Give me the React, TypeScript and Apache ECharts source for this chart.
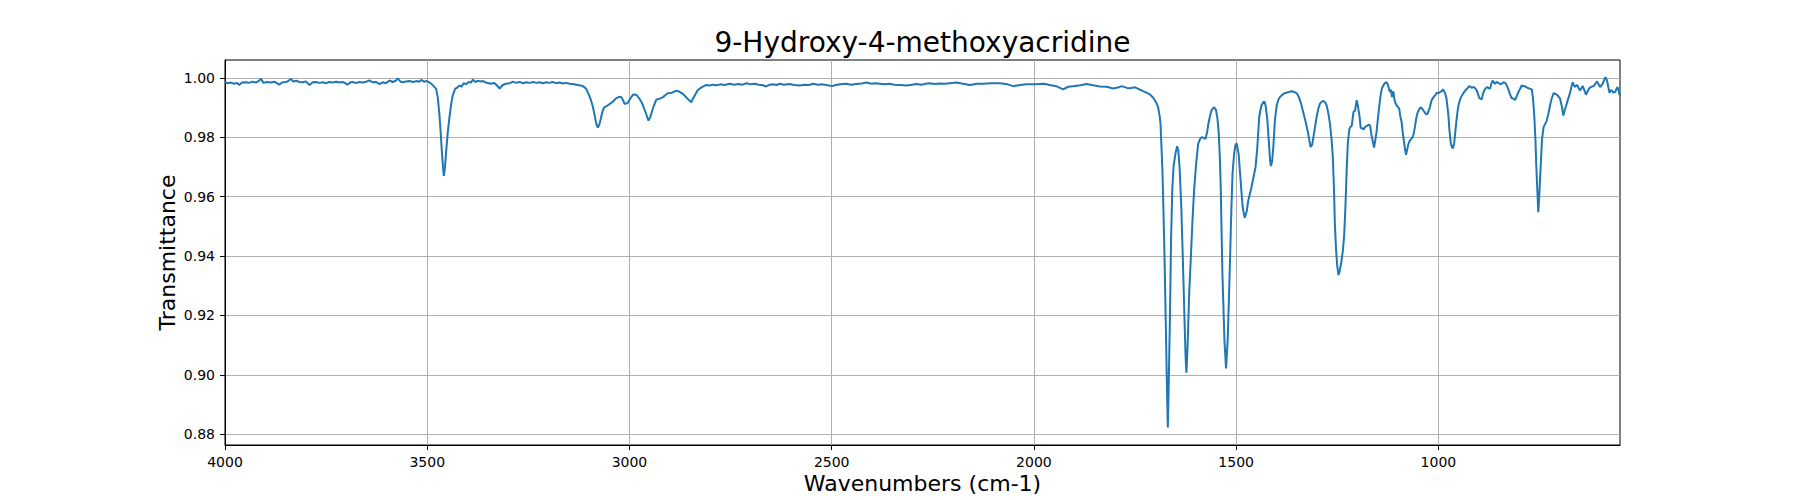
import { useEffect, useRef } from "react";
import * as echarts from "echarts";

const chartTitle = "9-Hydroxy-4-methoxyacridine";
const xAxisLabel = "Wavenumbers (cm-1)";
const yAxisLabel = "Transmittance";

const xTicks = [1000, 1500, 2000, 2500, 3000, 3500, 4000];
const yTicks = [0.88, 0.9, 0.92, 0.94, 0.96, 0.98, 1.0];

// [wavenumber, transmittance]
const spectrum: [number, number][] = [
  [4000, 0.9985], [3993, 0.9982], [3986, 0.9984], [3977, 0.998], [3970, 0.9983],
  [3965, 0.9976], [3958, 0.9984], [3948, 0.9985], [3940, 0.9983], [3932, 0.9987],
  [3924, 0.9984], [3917, 0.9989], [3911, 0.9997], [3905, 0.9983], [3897, 0.9986],
  [3886, 0.9984], [3878, 0.9987], [3866, 0.9977], [3858, 0.9985], [3849, 0.9986],
  [3843, 0.999], [3837, 0.9996], [3830, 0.9987], [3824, 0.999], [3816, 0.9986],
  [3808, 0.9985], [3800, 0.9988], [3791, 0.9976], [3783, 0.9985], [3775, 0.9986],
  [3767, 0.9983], [3758, 0.9985], [3750, 0.9982], [3742, 0.9986], [3734, 0.9984],
  [3725, 0.9987], [3717, 0.9984], [3709, 0.9986], [3703, 0.9982], [3697, 0.9977],
  [3690, 0.9985], [3684, 0.9986], [3676, 0.9982], [3668, 0.9986], [3659, 0.9984],
  [3651, 0.9987], [3643, 0.9991], [3635, 0.9985], [3626, 0.9986], [3618, 0.9979],
  [3610, 0.9985], [3602, 0.9982], [3593, 0.9991], [3585, 0.9986], [3578, 0.999],
  [3573, 0.9998], [3566, 0.9987], [3560, 0.9985], [3552, 0.9988], [3544, 0.9989],
  [3535, 0.9986], [3527, 0.9989], [3520, 0.9987], [3515, 0.9993], [3508, 0.9987],
  [3501, 0.9989], [3495, 0.9985], [3490, 0.998], [3484, 0.9972], [3478, 0.9963],
  [3474, 0.9935], [3470, 0.9879], [3467, 0.982], [3464, 0.9756], [3461, 0.97],
  [3459, 0.967], [3456, 0.97], [3453, 0.9756], [3449, 0.982], [3445, 0.9868],
  [3441, 0.991], [3437, 0.9941], [3431, 0.9963], [3425, 0.9968], [3420, 0.9974],
  [3415, 0.997], [3410, 0.9982], [3404, 0.9978], [3398, 0.9986], [3392, 0.9984],
  [3387, 0.9994], [3381, 0.9986], [3375, 0.999], [3369, 0.9988], [3362, 0.9989],
  [3355, 0.9984], [3348, 0.9982], [3342, 0.998], [3335, 0.9983], [3328, 0.9975],
  [3321, 0.9964], [3314, 0.9975], [3306, 0.998], [3296, 0.9982], [3288, 0.9987],
  [3280, 0.9983], [3272, 0.9986], [3263, 0.9982], [3255, 0.9985], [3247, 0.9983],
  [3238, 0.9986], [3230, 0.9983], [3222, 0.9985], [3214, 0.9982], [3206, 0.9985],
  [3198, 0.9983], [3190, 0.9986], [3181, 0.9982], [3173, 0.9984], [3165, 0.9981],
  [3157, 0.9983], [3148, 0.998], [3140, 0.9979], [3132, 0.9977], [3124, 0.9975],
  [3115, 0.9972], [3107, 0.9963], [3101, 0.9945], [3095, 0.9924], [3090, 0.99],
  [3086, 0.9873], [3082, 0.9845], [3078, 0.9832], [3074, 0.9845], [3070, 0.9868],
  [3066, 0.989], [3062, 0.9901], [3056, 0.9905], [3049, 0.9912], [3041, 0.992],
  [3033, 0.9931], [3026, 0.9936], [3020, 0.9935], [3016, 0.9925], [3012, 0.9912],
  [3008, 0.9914], [3004, 0.9916], [2998, 0.993], [2991, 0.9944], [2983, 0.9943],
  [2975, 0.9929], [2969, 0.9915], [2965, 0.9901], [2959, 0.9879], [2953, 0.9856],
  [2949, 0.9866], [2946, 0.9879], [2940, 0.9905], [2934, 0.9926], [2925, 0.993],
  [2917, 0.9935], [2911, 0.9942], [2905, 0.9948], [2895, 0.995], [2884, 0.9957],
  [2876, 0.9953], [2868, 0.9946], [2862, 0.9938], [2856, 0.9929], [2847, 0.9918],
  [2843, 0.993], [2839, 0.994], [2831, 0.9959], [2822, 0.9968], [2810, 0.9976],
  [2802, 0.9974], [2794, 0.9977], [2785, 0.9975], [2775, 0.9978], [2765, 0.9976],
  [2752, 0.998], [2742, 0.9977], [2730, 0.9979], [2720, 0.9977], [2711, 0.9982],
  [2700, 0.9978], [2690, 0.998], [2680, 0.9977], [2670, 0.9975], [2662, 0.9971],
  [2655, 0.9976], [2645, 0.9978], [2636, 0.9976], [2629, 0.998], [2618, 0.9977],
  [2605, 0.9979], [2592, 0.9976], [2579, 0.9974], [2568, 0.9977], [2556, 0.9976],
  [2546, 0.998], [2534, 0.9977], [2522, 0.9978], [2510, 0.9975], [2499, 0.9972],
  [2490, 0.9976], [2478, 0.9978], [2464, 0.998], [2452, 0.9977], [2440, 0.9979],
  [2426, 0.9981], [2414, 0.9984], [2402, 0.998], [2392, 0.9982], [2381, 0.998],
  [2370, 0.9978], [2358, 0.998], [2345, 0.9977], [2330, 0.9976], [2315, 0.9974],
  [2302, 0.9977], [2290, 0.9979], [2278, 0.9977], [2268, 0.998], [2258, 0.9982],
  [2245, 0.9979], [2232, 0.9981], [2220, 0.998], [2208, 0.9982], [2192, 0.9984],
  [2175, 0.998], [2159, 0.9976], [2140, 0.998], [2126, 0.998], [2105, 0.9982],
  [2084, 0.9982], [2065, 0.9978], [2051, 0.9972], [2035, 0.9976], [2018, 0.9978],
  [1995, 0.9978], [1975, 0.998], [1961, 0.9976], [1945, 0.9972], [1928, 0.9961],
  [1915, 0.997], [1903, 0.9972], [1885, 0.9975], [1870, 0.9979], [1850, 0.9974],
  [1837, 0.9971], [1820, 0.997], [1804, 0.9964], [1790, 0.9968], [1783, 0.9972],
  [1770, 0.9966], [1763, 0.9965], [1750, 0.9968], [1742, 0.9963], [1730, 0.9955],
  [1722, 0.995], [1713, 0.9944], [1705, 0.9933], [1698, 0.9918], [1693, 0.9901],
  [1689, 0.987], [1687, 0.9845], [1685, 0.978], [1682, 0.9677], [1678, 0.9453],
  [1674, 0.9173], [1671, 0.895], [1669, 0.8823], [1667, 0.895], [1664, 0.9173],
  [1661, 0.9453], [1658, 0.962], [1655, 0.97], [1650, 0.9745], [1646, 0.977],
  [1643, 0.9755], [1640, 0.97], [1636, 0.958], [1632, 0.94], [1628, 0.92],
  [1625, 0.906], [1623, 0.9007], [1620, 0.91], [1616, 0.928], [1612, 0.9397],
  [1608, 0.952], [1604, 0.9621], [1599, 0.971], [1594, 0.9778], [1588, 0.9798],
  [1584, 0.98], [1581, 0.9798], [1576, 0.9795], [1572, 0.9815], [1569, 0.9843],
  [1565, 0.987], [1561, 0.989], [1555, 0.9901], [1550, 0.9893], [1546, 0.986],
  [1543, 0.9812], [1540, 0.972], [1538, 0.9621], [1534, 0.9341], [1529, 0.9117],
  [1525, 0.9022], [1521, 0.9117], [1518, 0.925], [1515, 0.9397], [1512, 0.955],
  [1509, 0.9677], [1505, 0.9745], [1502, 0.9772], [1499, 0.978], [1494, 0.9745],
  [1489, 0.9655], [1484, 0.9565], [1479, 0.9529], [1474, 0.955], [1470, 0.9588],
  [1464, 0.962], [1458, 0.966], [1452, 0.97], [1448, 0.976], [1443, 0.9868],
  [1438, 0.9905], [1433, 0.9918], [1430, 0.992], [1427, 0.9905], [1423, 0.986],
  [1419, 0.978], [1416, 0.972], [1414, 0.9703], [1411, 0.972], [1408, 0.977],
  [1404, 0.986], [1400, 0.9905], [1396, 0.9925], [1392, 0.9935], [1385, 0.9944],
  [1378, 0.9949], [1370, 0.9952], [1363, 0.9955], [1357, 0.9953], [1350, 0.9948],
  [1345, 0.9935], [1340, 0.9915], [1334, 0.9883], [1328, 0.985], [1323, 0.982],
  [1319, 0.979], [1316, 0.9767], [1312, 0.9775], [1309, 0.98], [1305, 0.9835],
  [1301, 0.9868], [1297, 0.9895], [1293, 0.9913], [1288, 0.992], [1284, 0.9922],
  [1280, 0.9918], [1276, 0.9906], [1272, 0.988], [1268, 0.9845], [1264, 0.979],
  [1261, 0.9733], [1258, 0.962], [1256, 0.9509], [1253, 0.942], [1250, 0.9365],
  [1247, 0.9336], [1244, 0.935], [1240, 0.938], [1236, 0.942], [1233, 0.947],
  [1230, 0.956], [1227, 0.968], [1224, 0.978], [1220, 0.9829], [1217, 0.9835],
  [1214, 0.984], [1210, 0.9885], [1206, 0.989], [1202, 0.9925], [1199, 0.9905],
  [1195, 0.987], [1192, 0.9831], [1188, 0.983], [1185, 0.9826], [1181, 0.9835],
  [1177, 0.9838], [1173, 0.9842], [1169, 0.984], [1166, 0.9812], [1162, 0.9785],
  [1159, 0.9765], [1156, 0.979], [1153, 0.9817], [1149, 0.987], [1146, 0.9906],
  [1143, 0.994], [1140, 0.9963], [1136, 0.9975], [1132, 0.9983], [1128, 0.9985],
  [1126, 0.998], [1124, 0.9972], [1120, 0.9952], [1117, 0.996], [1115, 0.9935],
  [1113, 0.9948], [1111, 0.9954], [1109, 0.993], [1107, 0.9918], [1103, 0.9907],
  [1097, 0.9896], [1094, 0.987], [1091, 0.9851], [1088, 0.9815], [1085, 0.9784],
  [1082, 0.9755], [1080, 0.9741], [1077, 0.976], [1074, 0.9778], [1071, 0.9788],
  [1068, 0.9793], [1065, 0.9798], [1062, 0.9806], [1058, 0.9835], [1055, 0.9862],
  [1052, 0.988], [1049, 0.989], [1044, 0.9901], [1040, 0.9896], [1037, 0.989],
  [1033, 0.9882], [1029, 0.9876], [1026, 0.9882], [1022, 0.9896], [1017, 0.9924],
  [1012, 0.9935], [1008, 0.9941], [1004, 0.995], [1000, 0.9948], [996, 0.9952],
  [992, 0.9955], [989, 0.9961], [986, 0.9955], [983, 0.9946], [980, 0.993],
  [978, 0.9907], [975, 0.987], [973, 0.9829], [971, 0.98], [969, 0.9778],
  [966, 0.9765], [964, 0.9763], [961, 0.978], [959, 0.9806], [956, 0.9848],
  [953, 0.9884], [950, 0.991], [946, 0.9929], [942, 0.994], [938, 0.9949],
  [933, 0.9958], [928, 0.9965], [925, 0.997], [922, 0.9972], [918, 0.9966],
  [913, 0.9969], [909, 0.9965], [905, 0.9957], [902, 0.9945], [899, 0.9932],
  [896, 0.993], [893, 0.9927], [890, 0.9945], [887, 0.9957], [883, 0.9965],
  [879, 0.9969], [875, 0.9964], [872, 0.9965], [869, 0.998], [866, 0.9991],
  [863, 0.9985], [860, 0.998], [856, 0.9986], [852, 0.9983], [847, 0.9979],
  [843, 0.998], [839, 0.9985], [835, 0.9983], [831, 0.9975], [827, 0.9961],
  [823, 0.9945], [819, 0.9932], [815, 0.993], [810, 0.9926], [805, 0.9943],
  [801, 0.9955], [798, 0.9963], [794, 0.9974], [790, 0.9972], [786, 0.9972],
  [782, 0.9968], [777, 0.9965], [773, 0.9963], [769, 0.9961], [766, 0.993],
  [763, 0.9873], [760, 0.979], [758, 0.9705], [755, 0.961], [753, 0.9548],
  [750, 0.962], [747, 0.9705], [744, 0.979], [740, 0.9834], [736, 0.9845],
  [732, 0.9856], [728, 0.988], [724, 0.9907], [720, 0.993], [715, 0.9949],
  [711, 0.9946], [707, 0.9943], [703, 0.9937], [699, 0.9929], [695, 0.9905],
  [691, 0.9873], [688, 0.989], [684, 0.9907], [679, 0.993], [674, 0.9952],
  [671, 0.997], [668, 0.9985], [665, 0.9975], [662, 0.9969], [659, 0.9975],
  [656, 0.9974], [653, 0.9965], [650, 0.9957], [646, 0.9966], [643, 0.9972],
  [639, 0.9958], [635, 0.9943], [631, 0.9955], [627, 0.9965], [622, 0.997],
  [616, 0.9972], [612, 0.998], [608, 0.9988], [604, 0.9978], [600, 0.9969],
  [596, 0.9976], [593, 0.9983], [590, 0.9993], [588, 1.0002], [585, 0.9998],
  [583, 0.999], [580, 0.997], [577, 0.995], [574, 0.9958], [571, 0.9957],
  [567, 0.995], [563, 0.9952], [560, 0.9962], [557, 0.9969], [554, 0.9955],
  [551, 0.9939],
];

const fontFamily = "DejaVu Sans";

export default function App() {
  const chartRef = useRef<HTMLDivElement>(null);

  useEffect(() => {
    if (!chartRef.current) return;
    const chart = echarts.init(chartRef.current, null, { renderer: "svg" });

    const option: echarts.EChartsOption = {
      animation: false,
      backgroundColor: "#ffffff",
      textStyle: { fontFamily },
      grid: {
        left: 225,
        right: 180,
        top: 60,
        bottom: 55,
        show: true,
        borderColor: "#000000",
        borderWidth: 1,
        containLabel: false,
        outerBoundsMode: "none",
      } as any,
      graphic: [
        {
          type: "text",
          x: 922.5,
          y: 42,
          style: {
            text: chartTitle,
            fontSize: 28,
            fontFamily,
            fill: "#000000",
            align: "center",
            verticalAlign: "middle",
            textAlign: "center",
            textVerticalAlign: "middle",
          } as any,
        },
      ],
      xAxis: {
        type: "value",
        inverse: true,
        min: 551,
        max: 4000,
        name: xAxisLabel,
        nameLocation: "middle",
        nameGap: 27,
        nameMoveOverlap: false,
        nameTextStyle: { fontSize: 22, color: "#000000", fontFamily },
        axisLine: { show: true, lineStyle: { color: "#000000", width: 1 } },
        axisTick: {
          show: true,
          length: 5,
          lineStyle: { color: "#000000", width: 1 },
          customValues: xTicks,
        } as any,
        axisLabel: {
          customValues: xTicks,
          color: "#000000",
          fontSize: 14,
          margin: 10,
          fontFamily,
          formatter: (v: number) => String(v),
        } as any,
        splitLine: { show: true, lineStyle: { color: "#b0b0b0", width: 1 } },
      } as any,
      yAxis: {
        type: "value",
        min: 0.8764,
        max: 1.006,
        name: yAxisLabel,
        nameLocation: "middle",
        nameGap: 47,
        nameMoveOverlap: false,
        nameTextStyle: { fontSize: 22, color: "#000000", fontFamily },
        axisLine: { show: true, lineStyle: { color: "#000000", width: 1 } },
        axisTick: {
          show: true,
          length: 5,
          lineStyle: { color: "#000000", width: 1 },
          customValues: yTicks,
        } as any,
        axisLabel: {
          customValues: yTicks,
          color: "#000000",
          fontSize: 14,
          margin: 10,
          fontFamily,
          formatter: (v: number) => v.toFixed(2),
        } as any,
        splitLine: { show: true, lineStyle: { color: "#b0b0b0", width: 1 } },
      } as any,
      series: [
        {
          type: "line",
          data: spectrum,
          showSymbol: false,
          symbol: "none",
          lineStyle: { color: "#1f77b4", width: 2 },
          itemStyle: { color: "#1f77b4" },
        },
      ],
    };

    chart.setOption(option);
    return () => {
      chart.dispose();
    };
  }, []);

  return (
    <div
      ref={chartRef}
      style={{ position: "fixed", left: 0, top: 0, width: 1800, height: 500, background: "#ffffff" }}
    />
  );
}
